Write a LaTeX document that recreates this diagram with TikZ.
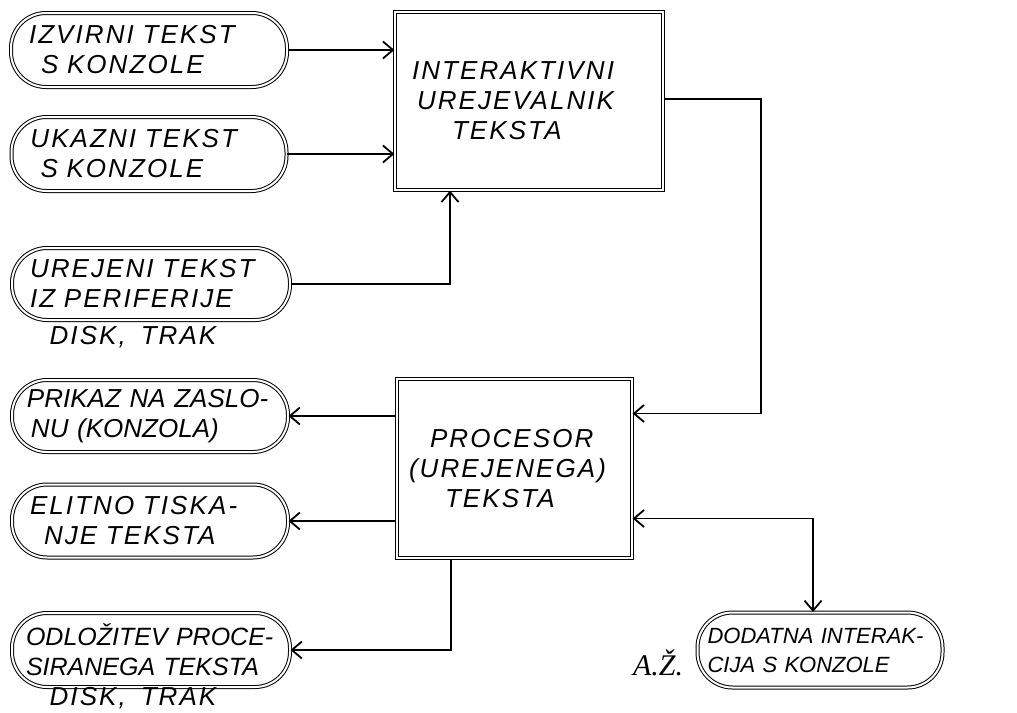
\documentclass[tikz,border=0pt]{standalone}
\usepackage{fontspec}
\setmainfont{Liberation Sans}
\newfontfamily\handfont[WordSpace=1.6]{Liberation Sans}
\newfontfamily\handwidefont[WordSpace=1.6,LetterSpace=8]{Liberation Sans}
\newfontfamily\azfont{Liberation Serif}
\usetikzlibrary{arrows.meta,calc}
\begin{document}
\begin{tikzpicture}[x=1pt,y=-1pt,
  >={Straight Barb[length=10pt,width=17pt]},
  hand/.style={font=\handfont\itshape\fontsize{26}{30}\selectfont},
  handwide/.style={font=\handwidefont\itshape\fontsize{26}{30}\selectfont},
  handsm/.style={font=\handfont\itshape\fontsize{25}{30}\selectfont},
  handxs/.style={font=\handfont\itshape\fontsize{22}{29}\selectfont},
  term/.style={draw, line width=1pt, double, double distance=2pt, rounded corners=35pt, minimum height=74pt, align=left, inner xsep=15pt},
  procbox/.style={draw, line width=1.3pt, double, double distance=2pt, align=left},
  conn/.style={line width=1.8pt},
]
\useasboundingbox (0,0) rectangle (1017,712);

% terminals
\node[term, handwide, text width=240pt, inner xsep=18pt] (t1) at (149,50) {IZVIRNI TEKST\\\hspace*{12pt}S KONZOLE};
\node[term, handwide, text width=237pt, inner xsep=19pt] (t2) at (149,154) {UKAZNI TEKST\\\hspace*{10pt}S KONZOLE};
\node[term, handwide, text width=242pt, inner xsep=18pt, minimum height=72pt] (t3) at (151,284) {UREJENI TEKST\\IZ PERIFERIJE};
\node[term, hand, text width=246pt, minimum height=72pt] (t4) at (150,416) {PRIKAZ NA ZASLO-\\\hspace*{4pt}NU (KONZOLA)};
\node[term, handwide, text width=240pt, inner xsep=18pt, minimum height=73pt] (t5) at (150,521) {ELITNO TISKA-\\\hspace*{14pt}NJE TEKSTA};
\node[term, handsm, text width=250pt, inner xsep=14pt] (t6) at (151,650) {ODLOŽITEV PROCE-\\SIRANEGA TEKSTA};
\node[term, handxs, text width=225pt, inner xsep=10pt, minimum height=75pt] (t7) at (820,650) {DODATNA INTERAK-\\CIJA S KONZOLE};

% boxes
\node[procbox, handwide, text width=234pt, inner xsep=17pt, minimum height=178pt] (b1) at (529,101) {INTERAKTIVNI\\\hspace*{5pt}UREJEVALNIK\\\hspace*{40pt}TEKSTA};
\node[procbox, handwide, text width=211pt, inner xsep=12pt, minimum height=179pt] (b2) at (514.5,468.5) {\hspace*{21pt}PROCESOR\\(UREJENEGA)\\\hspace*{36pt}TEKSTA};

% labels
\node[handwide] (d1) at (133,337) {DISK, TRAK};
\node[handwide] (d2) at (133,698) {DISK, TRAK};
\node[font=\azfont\itshape\fontsize{30}{34}\selectfont] (az) at (658,663) {A.Ž.};

% connectors
\draw[conn,->] (t1.east) -- (t1.east -| b1.west);
\draw[conn,->] (t2.east) -- (t2.east -| b1.west);
\draw[conn,->] (t3.east) -| ([xshift=-79pt]b1.south);
\draw[conn,->] ([yshift=2pt]b1.east) -- ++(97,0) |- ([yshift=55pt]b2.east);
\draw[conn,->] (t4.east -| b2.west) -- (t4.east);
\draw[conn,->] (t5.east -| b2.west) -- (t5.east);
\draw[conn,->] ([xshift=55pt]b2.south west) |- (t6.east);
\draw[conn,<->] ([yshift=-50pt]b2.east) -| ([xshift=-7pt]t7.north);
\end{tikzpicture}
\end{document}
